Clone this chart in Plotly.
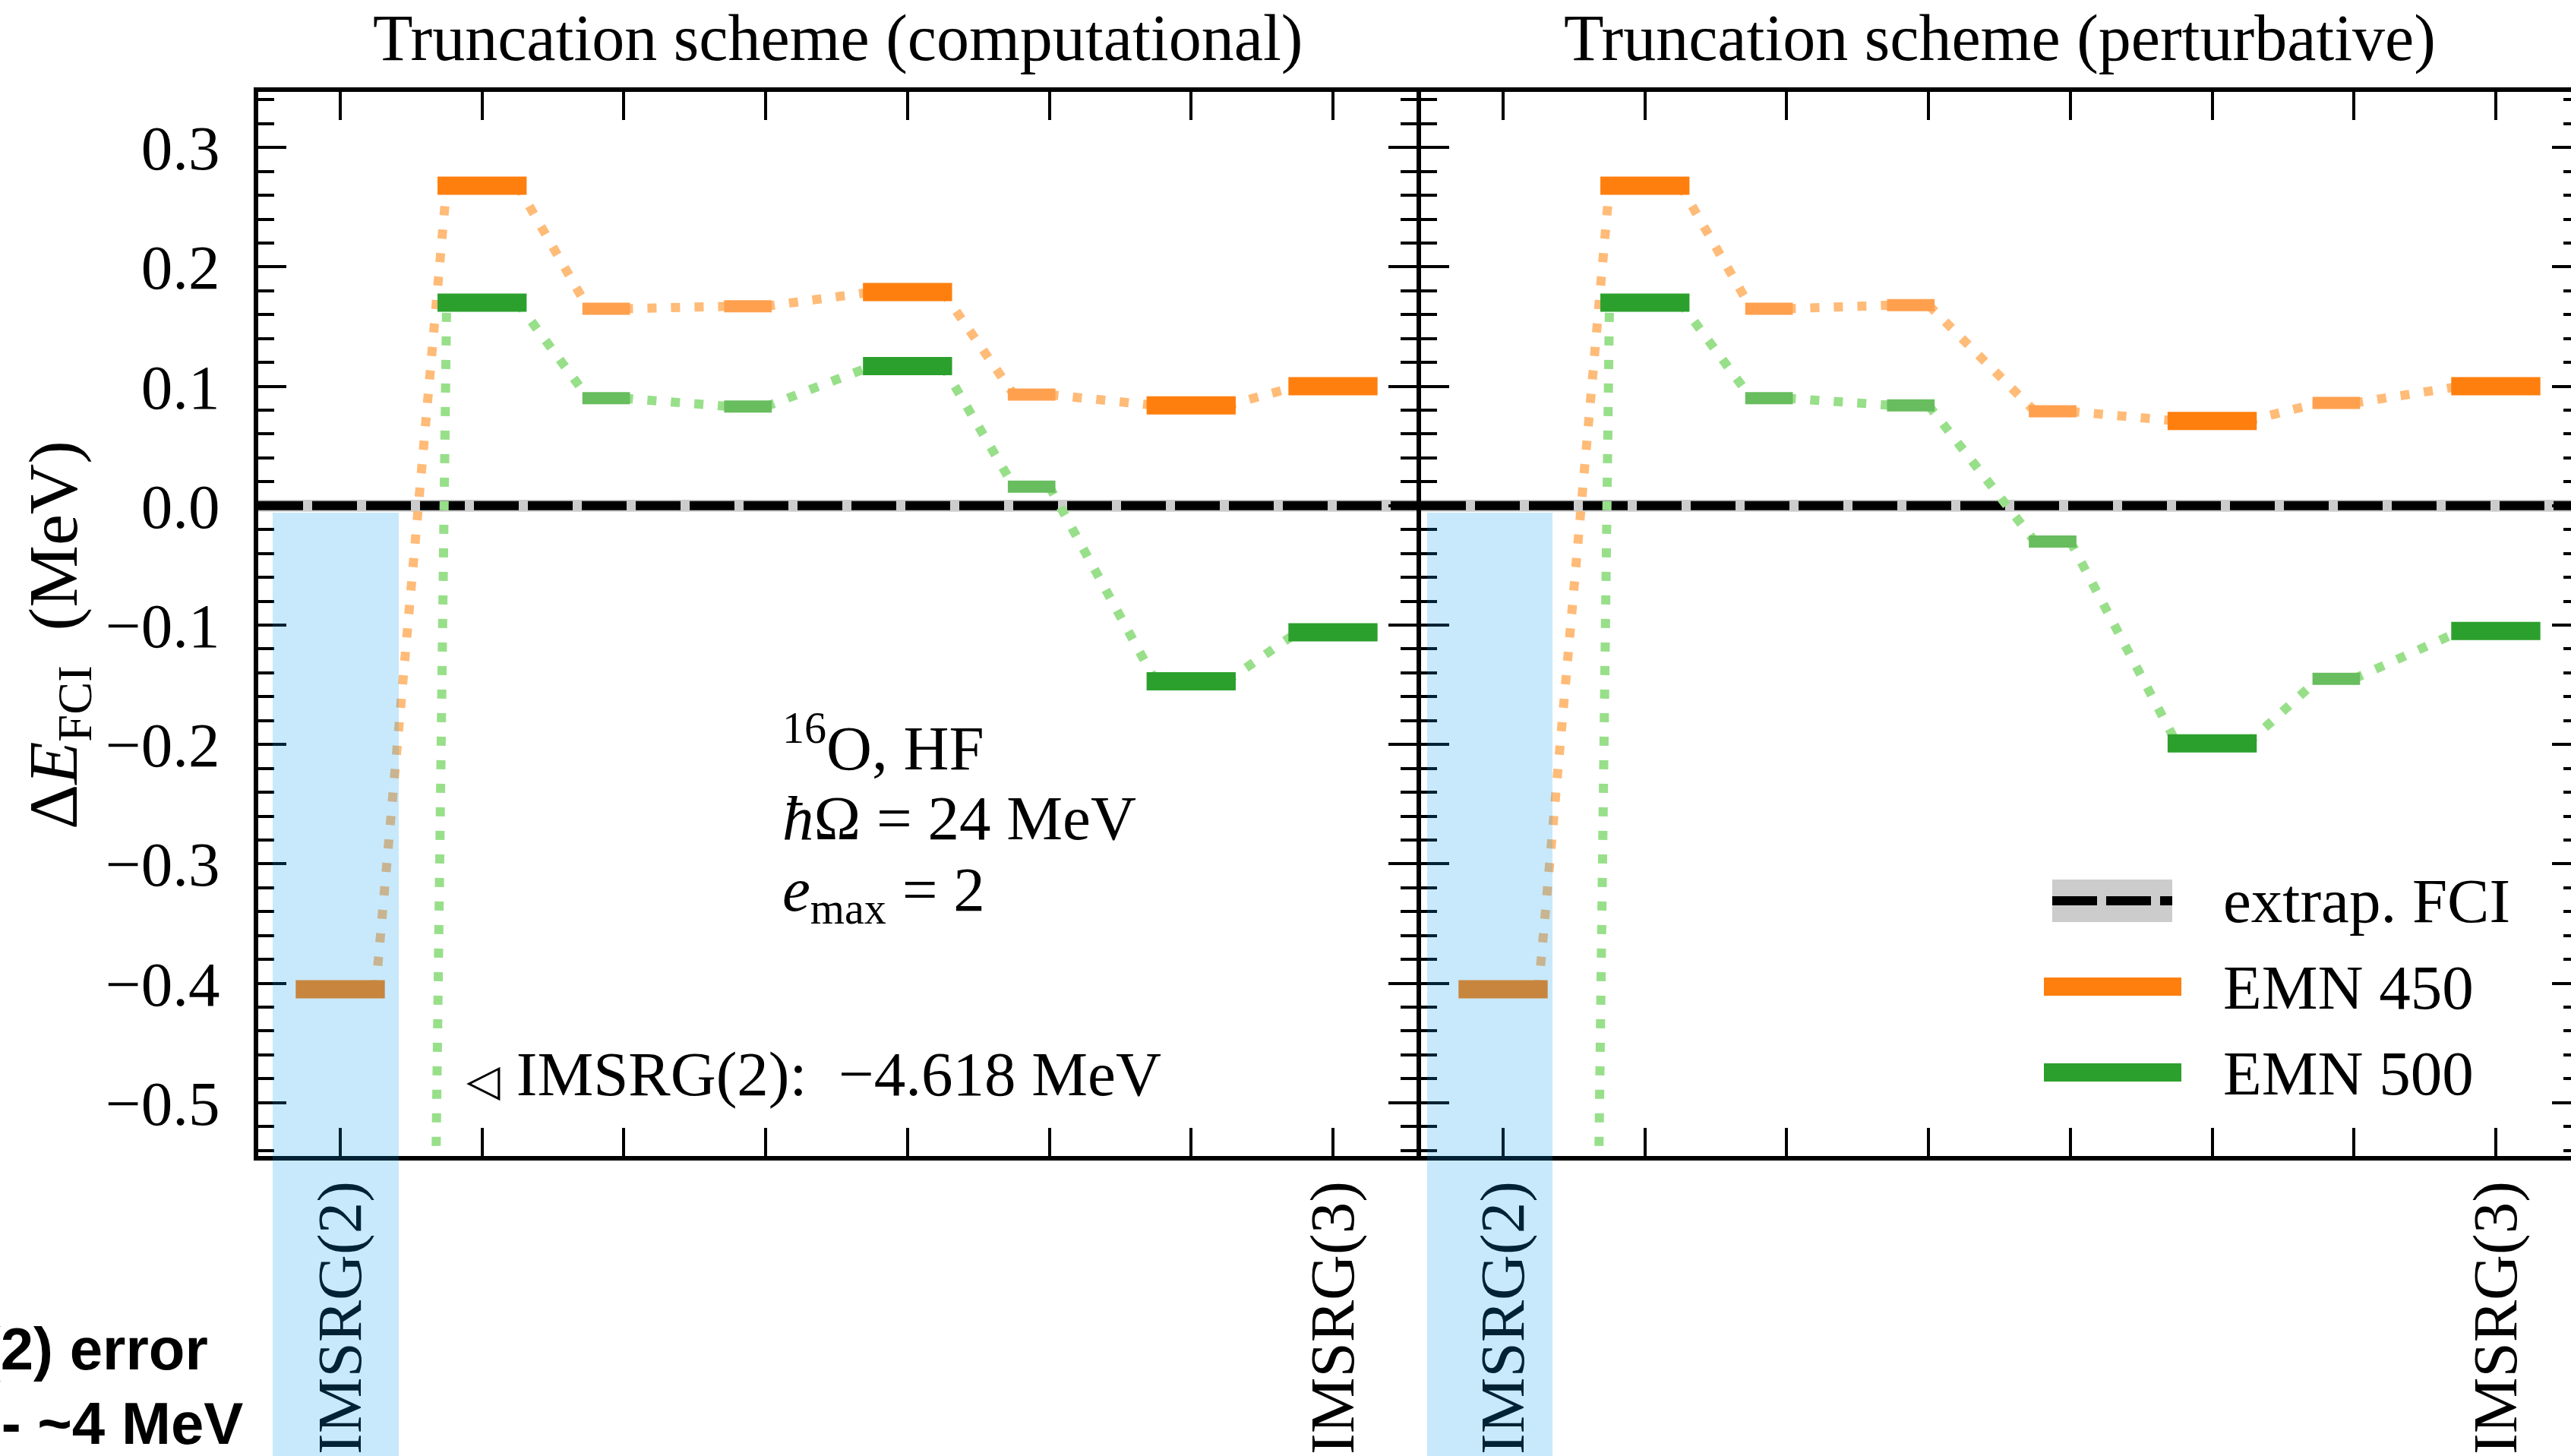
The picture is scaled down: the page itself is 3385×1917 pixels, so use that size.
import plotly.graph_objects as go

# ---------------- data ----------------
steps = [0, 1, 2, 3, 4, 5, 6, 7]
labelled_steps = [0, 7]
step_labels = ["IMSRG(2)", "IMSRG(3)"]

# extrapolated FCI reference (energies are shown relative to it)
fci_delta = 0.0
fci_band = 0.005

# truncation scheme (computational)
comp_emn450 = [-0.405, 0.268, 0.165, 0.167, 0.179, 0.093, 0.084, 0.100]
comp_emn500 = [-4.618, 0.170, 0.090, 0.083, 0.117, 0.016, -0.147, -0.106]
comp_full = [True, True, False, False, True, False, True, True]

# truncation scheme (perturbative)
pert_emn450 = [-0.405, 0.268, 0.165, 0.168, 0.079, 0.071, 0.086, 0.100]
pert_emn500 = [-4.618, 0.170, 0.090, 0.084, -0.030, -0.199, -0.145, -0.105]
pert_full = [True, True, False, False, False, True, False, True]

panel_titles = ["Truncation scheme (computational)", "Truncation scheme (perturbative)"]
series_names = ["EMN 450", "EMN 500"]

# ---------------- geometry / style ----------------
FIG_W, FIG_H = 3385, 1917
L, R, T, B = 340, 3385, 121, 1522
W, H = R - L, B - T
SPLIT_L, SPLIT_R = 1865, 1871
STEP_PX = 186.714
ORIGIN_PX = (448, 1979)
ZERO_PX, MEV_PX = 665.8, 1572.0

SERIF = "Liberation Serif"
SANS = "Liberation Sans"
FS = 83

HALF = 0.25
CAP_MAIN = 12 / STEP_PX
CAP_SMALL = 8 / STEP_PX

COLORS = {
    "EMN 450": dict(main="#ff7f0e", small="#ffa04f", link="#ffbb78"),
    "EMN 500": dict(main="#2ca02c", small="#68bd5e", link="#98df8a"),
}


def xp(px):
    return (px - L) / W


def yp(py):
    return 1 - (py - T) / H


y_range = [-(B - ZERO_PX) / MEV_PX, (ZERO_PX - T) / MEV_PX]
x_ranges = [
    [(L - ORIGIN_PX[0]) / STEP_PX, (SPLIT_L - ORIGIN_PX[0]) / STEP_PX],
    [(SPLIT_R - ORIGIN_PX[1]) / STEP_PX, (R - ORIGIN_PX[1]) / STEP_PX],
]


def bar_segments(values, flags, main):
    xs, ys = [], []
    for s, v, f in zip(steps, values, flags):
        if f != main:
            continue
        if main:
            a, b = s - HALF - CAP_MAIN, s + HALF + CAP_MAIN
        else:
            a, b = s - HALF - CAP_SMALL, s + CAP_SMALL
        xs += [a, b, None]
        ys += [v, v, None]
    return xs, ys


def link_segments(values, flags):
    xs, ys = [], []
    for i in range(len(steps) - 1):
        xs += [steps[i] + (HALF if flags[i] else 0.0), steps[i + 1] - HALF, None]
        ys += [values[i], values[i + 1], None]
    return xs, ys


fig = go.Figure()

panels = [
    (comp_emn450, comp_emn500, comp_full),
    (pert_emn450, pert_emn500, pert_full),
]

for p, (e450, e500, full) in enumerate(panels):
    xa = "x" if p == 0 else "x2"
    ya = "y" if p == 0 else "y2"
    ya_bars = "y" if p == 0 else "y3"
    x_lo, x_hi = x_ranges[p]

    # FCI uncertainty band and central line
    fig.add_trace(go.Scatter(
        x=[x_lo, x_hi, x_hi, x_lo, x_lo],
        y=[fci_delta - fci_band, fci_delta - fci_band, fci_delta + fci_band,
           fci_delta + fci_band, fci_delta - fci_band],
        mode="lines", fill="toself", fillcolor="#cccccc", line=dict(width=0),
        xaxis=xa, yaxis=ya, showlegend=False, hoverinfo="skip"))
    fig.add_trace(go.Scatter(
        x=[x_lo, x_hi], y=[fci_delta, fci_delta], mode="lines",
        line=dict(color="black", width=12, dash="59px,12px"),
        xaxis=xa, yaxis=ya, showlegend=False, name="extrap. FCI"))

    for name, vals in zip(series_names, (e450, e500)):
        lx, ly = link_segments(vals, full)
        fig.add_trace(go.Scatter(
            x=lx, y=ly, mode="lines",
            line=dict(color=COLORS[name]["link"], width=12, dash="12px,19px"),
            xaxis=xa, yaxis=ya, showlegend=False, hoverinfo="skip"))

    for name, vals in zip(series_names, (e450, e500)):
        sx, sy = bar_segments(vals, full, False)
        fig.add_trace(go.Scatter(
            x=sx, y=sy, mode="lines", line=dict(color=COLORS[name]["small"], width=16),
            xaxis=xa, yaxis=ya_bars, showlegend=False, name=name))
        mx, my = bar_segments(vals, full, True)
        fig.add_trace(go.Scatter(
            x=mx, y=my, mode="lines", line=dict(color=COLORS[name]["main"], width=24),
            xaxis=xa, yaxis=ya_bars, showlegend=False, name=name))

axis_common = dict(showline=True, linecolor="black", linewidth=6, showgrid=False,
                   zeroline=False, ticks="inside", tickcolor="black", tickwidth=4,
                   automargin=False)

x_common = dict(axis_common, mirror="ticks", ticklen=37, tickmode="array",
                tickvals=labelled_steps, ticktext=step_labels, tickangle=-90,
                tickfont=dict(family=SERIF, size=FS, color="black"),
                ticklabelstandoff=-6,
                minor=dict(ticks="inside", ticklen=37, tickwidth=4, tickcolor="black",
                           tickmode="array", tickvals=steps, showgrid=False))

minor_y = dict(ticks="inside", ticklen=21, tickwidth=4, tickcolor="black",
               dtick=0.02, tick0=0, showgrid=False)

fig.update_layout(
    width=FIG_W, height=FIG_H,
    margin=dict(l=L, r=FIG_W - R, t=T, b=FIG_H - B, pad=0, autoexpand=False),
    paper_bgcolor="white", plot_bgcolor="white",
    showlegend=False,
    xaxis=dict(x_common, domain=[0, xp(SPLIT_L)], range=x_ranges[0], anchor="y"),
    xaxis2=dict(x_common, domain=[xp(SPLIT_R), 1], range=x_ranges[1], anchor="y2"),
    yaxis=dict(axis_common, domain=[0, 1], range=y_range, anchor="x", mirror="ticks",
               ticklen=37, dtick=0.1, tick0=0, tickformat=".1f",
               tickfont=dict(family=SERIF, size=FS, color="black"),
               ticklabelstandoff=28, minor=minor_y),
    yaxis2=dict(axis_common, domain=[0, 1], range=y_range, anchor="x2", mirror=False,
                ticklen=37, dtick=0.1, tick0=0, showticklabels=False, minor=minor_y),
    yaxis3=dict(range=y_range, anchor="x2", overlaying="y2", side="right",
                showline=False, showgrid=False, zeroline=False, ticks="inside",
                ticklen=25, tickwidth=4, tickcolor="black", dtick=0.1, tick0=0,
                showticklabels=False, automargin=False,
                minor=dict(ticks="inside", ticklen=10, tickwidth=4, tickcolor="black",
                           dtick=0.02, tick0=0, showgrid=False)),
)

ann = []


def text(px, py, s, size=FS, family=SERIF, xanchor="left", angle=0, color="black"):
    ann.append(dict(x=xp(px), y=yp(py), xref="paper", yref="paper", text=s,
                    showarrow=False, xanchor=xanchor, yanchor="middle",
                    textangle=angle, font=dict(family=family, size=size, color=color)))


# panel titles
text(1103, 50, panel_titles[0], size=86, xanchor="center")
text(2633, 50, panel_titles[1], size=86, xanchor="center")

# y-axis title
text(76, 836, "Δ<i>E</i><sub>FCI</sub>  (MeV)", size=92, xanchor="center", angle=-90)

# system description
text(1028, 978, "<sup>16</sup>O, HF")
text(1028, 1077, "<i>ħ</i>Ω = 24 MeV")
text(1028, 1177, "<i>e</i><sub>max</sub> = 2")

# off-scale IMSRG(2) value for EMN 500
text(612, 1414, "<span style='font-size:58px'>◁</span> IMSRG(2):  −%.3f MeV"
     % abs(comp_emn500[0]))

# note at the lower left
text(276, 1776, "<b>IMSRG(2) error</b>", size=78, family=SANS, xanchor="right")
text(322, 1874, "<b>IMSRG(3) - ~4 MeV</b>", size=78, family=SANS, xanchor="right")

# legend
text(2925, 1186, "extrap. FCI")
text(2925, 1300, series_names[0])
text(2925, 1413, series_names[1])

shapes = []
# legend samples
shapes.append(dict(type="rect", xref="paper", yref="paper", x0=xp(2702), x1=xp(2860),
                   y0=yp(1214), y1=yp(1158), fillcolor="#cccccc", line=dict(width=0),
                   layer="above"))
shapes.append(dict(type="line", xref="paper", yref="paper", x0=xp(2702), x1=xp(2860),
                   y0=yp(1186), y1=yp(1186), line=dict(color="black", width=12, dash="59px,12px"),
                   layer="above"))
for name, yc in zip(series_names, (1299, 1412)):
    shapes.append(dict(type="rect", xref="paper", yref="paper", x0=xp(2691), x1=xp(2872),
                       y0=yp(yc + 12), y1=yp(yc - 12), fillcolor=COLORS[name]["main"],
                       line=dict(width=0), layer="above"))

# highlighted IMSRG(2) columns
for x0, x1 in ((359, 525), (1879, 2044)):
    shapes.append(dict(type="rect", xref="paper", yref="paper", x0=xp(x0), x1=xp(x1),
                       y0=yp(FIG_H + 10), y1=yp(675), fillcolor="rgba(5,155,235,0.22)",
                       line=dict(width=0), layer="above"))

fig.update_layout(annotations=ann, shapes=shapes)

fig.write_html("out.html")
